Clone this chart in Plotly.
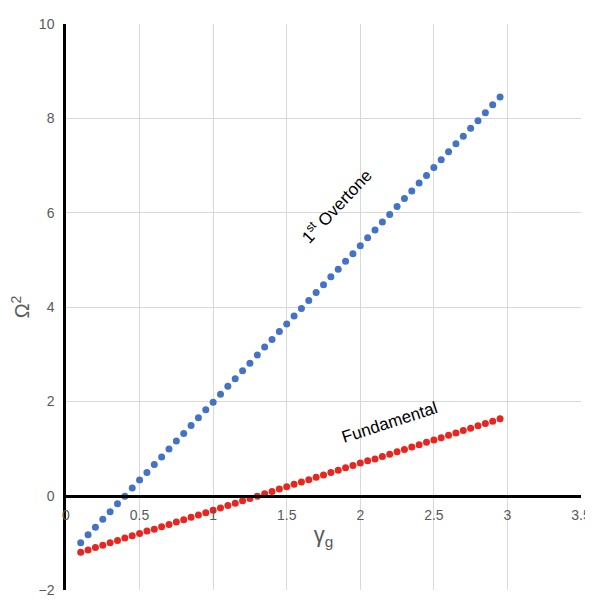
#!/usr/bin/env python3
"""Omega^2 vs gamma_g scatter (fundamental and 1st overtone)"""

import plotly.graph_objects as go

gamma_g = [0.10, 0.15, 0.20, 0.25, 0.30, 0.35, 0.40, 0.45, 0.50, 0.55,
           0.60, 0.65, 0.70, 0.75, 0.80, 0.85, 0.90, 0.95, 1.00, 1.05,
           1.10, 1.15, 1.20, 1.25, 1.30, 1.35, 1.40, 1.45, 1.50, 1.55,
           1.60, 1.65, 1.70, 1.75, 1.80, 1.85, 1.90, 1.95, 2.00, 2.05,
           2.10, 2.15, 2.20, 2.25, 2.30, 2.35, 2.40, 2.45, 2.50, 2.55,
           2.60, 2.65, 2.70, 2.75, 2.80, 2.85, 2.90, 2.95]

overtone = [-1.00, -0.83, -0.67, -0.50, -0.34, -0.17, -0.01, 0.16, 0.33, 0.49,
            0.66, 0.82, 0.99, 1.16, 1.32, 1.49, 1.65, 1.82, 1.98, 2.15,
            2.32, 2.48, 2.65, 2.81, 2.98, 3.15, 3.31, 3.48, 3.64, 3.81,
            3.97, 4.14, 4.31, 4.47, 4.64, 4.80, 4.97, 5.13, 5.30, 5.47,
            5.63, 5.80, 5.96, 6.13, 6.30, 6.46, 6.63, 6.79, 6.96, 7.12,
            7.29, 7.46, 7.62, 7.79, 7.95, 8.12, 8.29, 8.45]

fundamental = [-1.20, -1.15, -1.10, -1.05, -1.00, -0.95, -0.90, -0.85, -0.80, -0.75,
               -0.71, -0.66, -0.61, -0.56, -0.51, -0.46, -0.41, -0.36, -0.31, -0.26,
               -0.21, -0.16, -0.11, -0.06, -0.01, 0.04, 0.09, 0.14, 0.19, 0.24,
               0.29, 0.34, 0.39, 0.44, 0.49, 0.54, 0.59, 0.64, 0.69, 0.74,
               0.78, 0.83, 0.88, 0.93, 0.98, 1.03, 1.08, 1.13, 1.18, 1.23,
               1.28, 1.33, 1.38, 1.43, 1.48, 1.53, 1.58, 1.63]

FONT = 'Liberation Sans'
GREY = '#595959'

fig = go.Figure()
fig.add_trace(go.Scatter(x=gamma_g, y=overtone, mode='markers', name='1st Overtone',
                         marker=dict(color='#4472C4', size=7)))
fig.add_trace(go.Scatter(x=gamma_g, y=fundamental, mode='markers', name='Fundamental',
                         marker=dict(color='#E8251E', size=7)))

fig.update_layout(width=593, height=600, showlegend=False,
                  plot_bgcolor='white', paper_bgcolor='white',
                  margin=dict(l=58, r=20, t=16, b=18),
                  font=dict(family=FONT, size=14, color=GREY))
# x axis sits on y=0 like in Excel: free position at paper y = 2/12
fig.update_xaxes(range=[0, 3.5], dtick=0.5, anchor='free', position=2 / 12,
                 automargin=False, showline=True, linecolor='black', linewidth=2.5,
                 showgrid=True, gridcolor='#D9D9D9', zeroline=False,
                 ticks='outside', ticklen=6, tickcolor='rgba(0,0,0,0)',
                 tickfont=dict(size=14, color=GREY),
                 title=dict(text='γ<sub>g</sub>', font=dict(size=22, color=GREY), standoff=4))
fig.update_yaxes(range=[-2, 10], dtick=2, automargin=False,
                 showline=True, linecolor='black', linewidth=2.5,
                 showgrid=True, gridcolor='#D9D9D9', zeroline=False,
                 ticks='outside', ticklen=6, tickcolor='rgba(0,0,0,0)',
                 tickfont=dict(size=14, color=GREY),
                 title=dict(text='Ω<sup>2</sup>', font=dict(size=20, color=GREY), standoff=14))
fig.add_annotation(x=1.83, y=6.15, text='1<sup>st</sup> Overtone', showarrow=False,
                   textangle=-47, font=dict(family=FONT, size=17, color='black'))
fig.add_annotation(x=2.2, y=1.55, text='Fundamental', showarrow=False,
                   textangle=-18, font=dict(family=FONT, size=17, color='black'))

fig.write_html("out.html")
